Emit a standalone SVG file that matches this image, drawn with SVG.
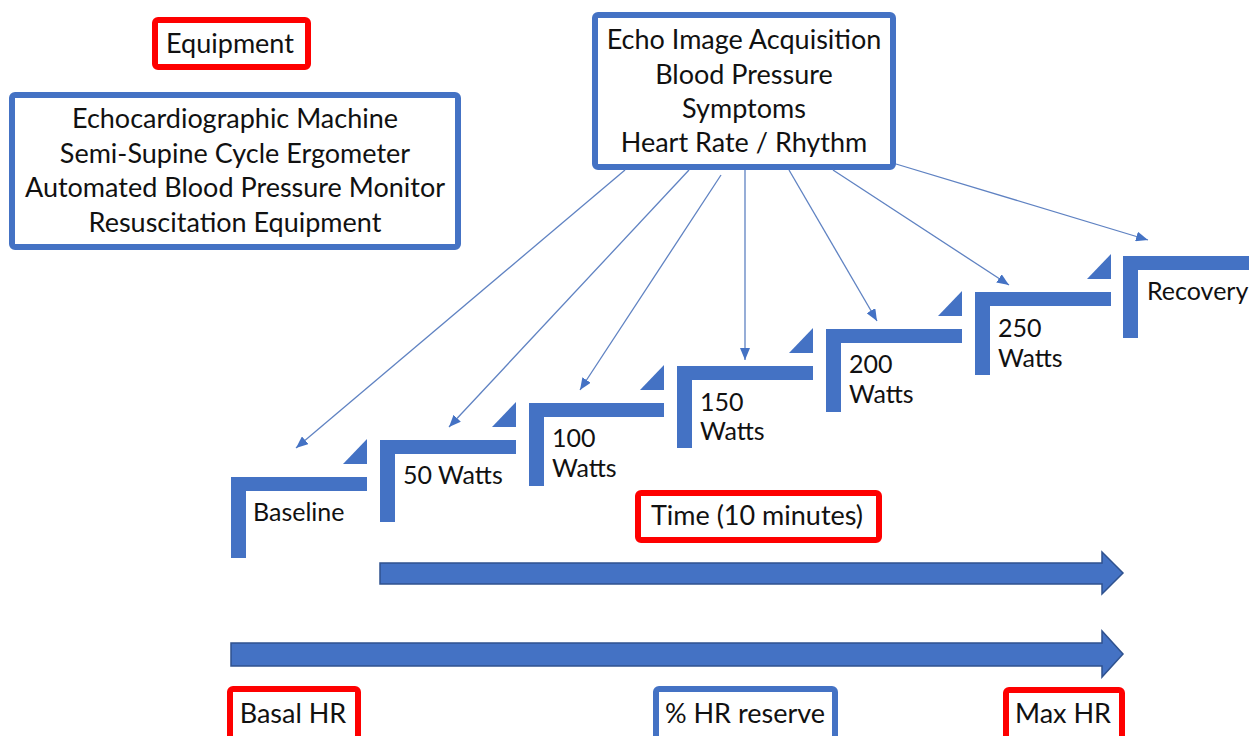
<svg xmlns="http://www.w3.org/2000/svg" width="1249" height="736" viewBox="0 0 1249 736">
  <style>
    .txt { font-family: Lato, "Liberation Sans", sans-serif; font-size: 27px; fill: #111; }
    .lbl { font-family: Lato, "Liberation Sans", sans-serif; font-size: 25px; fill: #111; }
    .mid { text-anchor: middle; }
    .boxR { fill: #fff; stroke: #fe0000; stroke-width: 6; }
    .boxB { fill: #fff; stroke: #4472c4; stroke-width: 6; }
    .step { fill: #4472c4; }
    .conn { stroke: #5f82c2; stroke-width: 1.3; fill: none; marker-end: url(#tip); }
    .bigArrow { fill: #4472c4; stroke: #2f528f; stroke-width: 1.5; }
  </style>
  <defs>
    <marker id="tip" markerUnits="userSpaceOnUse" markerWidth="13" markerHeight="10" refX="12" refY="5" orient="auto">
      <path d="M0,0 L12,5 L0,10 z" fill="#4472c4"/>
    </marker>
  </defs>
  <rect width="1249" height="736" fill="#fff"/>

  <!-- Equipment heading -->
  <g id="equipment-title">
    <rect class="boxR" x="155" y="20" width="153" height="47" rx="3"/>
    <text class="txt mid" x="230" y="53">Equipment</text>
  </g>

  <!-- Equipment list -->
  <g id="equipment-list">
    <rect class="boxB" x="12" y="95" width="446" height="152" rx="3"/>
    <text class="txt mid" x="235" y="128">Echocardiographic Machine</text>
    <text class="txt mid" x="235" y="163">Semi-Supine Cycle Ergometer</text>
    <text class="txt mid" x="235" y="197">Automated Blood Pressure Monitor</text>
    <text class="txt mid" x="235" y="232">Resuscitation Equipment</text>
  </g>

  <!-- Measurements taken at every stage -->
  <g id="measurements">
    <rect class="boxB" x="595" y="15" width="298" height="152" rx="3"/>
    <text class="txt mid" x="744" y="49">Echo Image Acquisition</text>
    <text class="txt mid" x="744" y="84">Blood Pressure</text>
    <text class="txt mid" x="744" y="118">Symptoms</text>
    <text class="txt mid" x="744" y="152">Heart Rate / Rhythm</text>
  </g>

  <!-- Connectors from the measurement box to each stage -->
  <g id="connectors">
    <line class="conn" x1="625" y1="170" x2="296" y2="448"/>
    <line class="conn" x1="689" y1="170" x2="449" y2="427"/>
    <line class="conn" x1="721" y1="175" x2="580" y2="390"/>
    <line class="conn" x1="745" y1="170" x2="745" y2="360"/>
    <line class="conn" x1="789" y1="170" x2="877" y2="321"/>
    <line class="conn" x1="833" y1="170" x2="1009" y2="285"/>
    <line class="conn" x1="896" y1="164" x2="1148" y2="240"/>
  </g>

  <!-- Exercise stages: L-shaped steps with small triangles -->
  <g id="stage-baseline">
    <path class="step" d="M231,477 H367 V491 H246 V558 H231 Z"/>
    <path class="step" d="M343,464 H367 V439 Z"/>
    <text class="lbl" x="253" y="521">Baseline</text>
  </g>
  <g id="stage-50">
    <path class="step" d="M380,440 H516 V454 H395 V522 H380 Z"/>
    <path class="step" d="M492,427 H516 V402 Z"/>
    <text class="lbl" x="403" y="484">50 Watts</text>
  </g>
  <g id="stage-100">
    <path class="step" d="M529,403 H664 V417 H544 V486 H529 Z"/>
    <path class="step" d="M640,390 H664 V365 Z"/>
    <text class="lbl" x="552" y="447">100</text>
    <text class="lbl" x="552" y="477">Watts</text>
  </g>
  <g id="stage-150">
    <path class="step" d="M677,366 H813 V380 H692 V448 H677 Z"/>
    <path class="step" d="M789,353 H813 V328 Z"/>
    <text class="lbl" x="700" y="411">150</text>
    <text class="lbl" x="700" y="440">Watts</text>
  </g>
  <g id="stage-200">
    <path class="step" d="M826,329 H962 V343 H841 V412 H826 Z"/>
    <path class="step" d="M938,316 H962 V291 Z"/>
    <text class="lbl" x="849" y="373">200</text>
    <text class="lbl" x="849" y="403">Watts</text>
  </g>
  <g id="stage-250">
    <path class="step" d="M975,292 H1111 V306 H990 V375 H975 Z"/>
    <path class="step" d="M1087,279 H1111 V254 Z"/>
    <text class="lbl" x="998" y="337">250</text>
    <text class="lbl" x="998" y="367">Watts</text>
  </g>
  <g id="stage-recovery">
    <path class="step" d="M1123,256 H1249 V270 H1138 V338 H1123 Z"/>
    <text class="lbl" x="1147" y="300">Recovery</text>
  </g>

  <!-- Time axis -->
  <g id="time-label">
    <rect class="boxR" x="638" y="493" width="241" height="47" rx="3"/>
    <text class="txt mid" x="757" y="525">Time (10 minutes)</text>
  </g>
  <g id="time-arrow">
    <path class="bigArrow" d="M380,563 H1102 V552 L1123,573 L1102,594 V584 H380 Z"/>
  </g>

  <!-- Heart-rate axis -->
  <g id="hr-arrow">
    <path class="bigArrow" d="M231,643 H1102 V631 L1123,654 L1102,677 V666 H231 Z"/>
  </g>
  <g id="basal-hr">
    <rect class="boxR" x="230" y="689" width="128" height="60" rx="3"/>
    <text class="txt mid" x="293" y="723">Basal HR</text>
  </g>
  <g id="hr-reserve">
    <rect class="boxB" x="656" y="689" width="179" height="60" rx="3"/>
    <text class="txt mid" x="745" y="723">% HR reserve</text>
  </g>
  <g id="max-hr">
    <rect class="boxR" x="1006" y="690" width="116" height="60" rx="3"/>
    <text class="txt mid" x="1063" y="723">Max HR</text>
  </g>
</svg>
